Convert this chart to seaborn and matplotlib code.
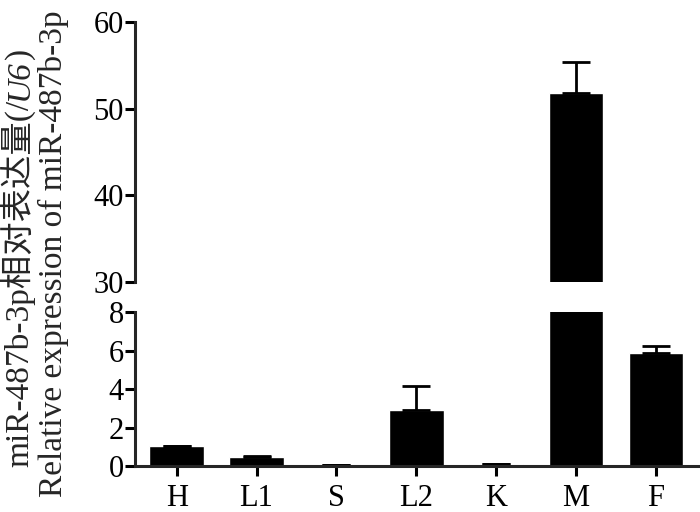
import matplotlib
matplotlib.use("Agg")
import matplotlib.pyplot as plt
import numpy as np
import seaborn as sns

# tissue groups and relative expression (mean, upper error)
tissues = ["H", "L1", "S", "L2", "K", "M", "F"]
expression = [1.05, 0.45, 0.03, 2.9, 0.08, 51.8, 5.85]
errors = [0.0, 0.05, 0.0, 1.25, 0.0, 3.6, 0.38]

top_ticks = [30, 40, 50, 60]
bottom_ticks = [0, 2, 4, 6, 8]

label_cn = ["miR-487b-3p相对表达量(/", "U6", ")"]
label_en = "Relative expression of miR-487b-3p"

sns.set_theme(style="ticks")
plt.rcParams["font.family"] = ["Liberation Serif", "Noto Sans CJK SC"]
plt.rcParams["axes.linewidth"] = 2.2

fig = plt.figure(figsize=(7, 5.12), dpi=100)
ax_top = fig.add_axes([0.193, 0.449, 0.807, 0.508])
ax_bot = fig.add_axes([0.193, 0.0898, 0.807, 0.3008])

for ax in (ax_top, ax_bot):
    sns.barplot(x=tissues, y=expression, color="black", saturation=1,
                width=0.68, ax=ax, errorbar=None)
    lower = np.zeros(len(errors))
    ax.errorbar(np.arange(len(tissues)), expression, yerr=[lower, errors],
                fmt="none", ecolor="black", elinewidth=2, capsize=10, capthick=2)
    ax.set_xlim(-0.52, 6.55)
    for side in ("top", "right"):
        ax.spines[side].set_visible(False)
    ax.tick_params(axis="both", length=7, width=2.2, color="black",
                   labelsize=22, labelcolor="black", pad=1)
    ax.set_xlabel("")
    ax.set_ylabel("")

ax_top.set_ylim(30, 60)
ax_top.set_yticks(top_ticks)
ax_top.spines["bottom"].set_visible(False)
ax_top.tick_params(axis="x", bottom=False, labelbottom=False)

ax_bot.set_ylim(0, 8)
ax_bot.set_yticks(bottom_ticks)
ax_bot.tick_params(axis="x", pad=6)

# two-line rotated y label; the Chinese line is built from pieces so U6 can be italic
renderer = fig.canvas.get_renderer()
y_px = 45
for piece, style in zip(label_cn, ["normal", "italic", "normal"]):
    t = fig.text(28 / 700, y_px / 512, piece, rotation=90, rotation_mode="anchor",
                 ha="left", va="baseline", fontsize=24, style=style)
    y_px += t.get_window_extent(renderer).height

fig.text(62 / 700, 0.505, label_en, rotation=90, rotation_mode="anchor",
         ha="center", va="baseline", fontsize=24)

fig.savefig("out.png", dpi=100)
